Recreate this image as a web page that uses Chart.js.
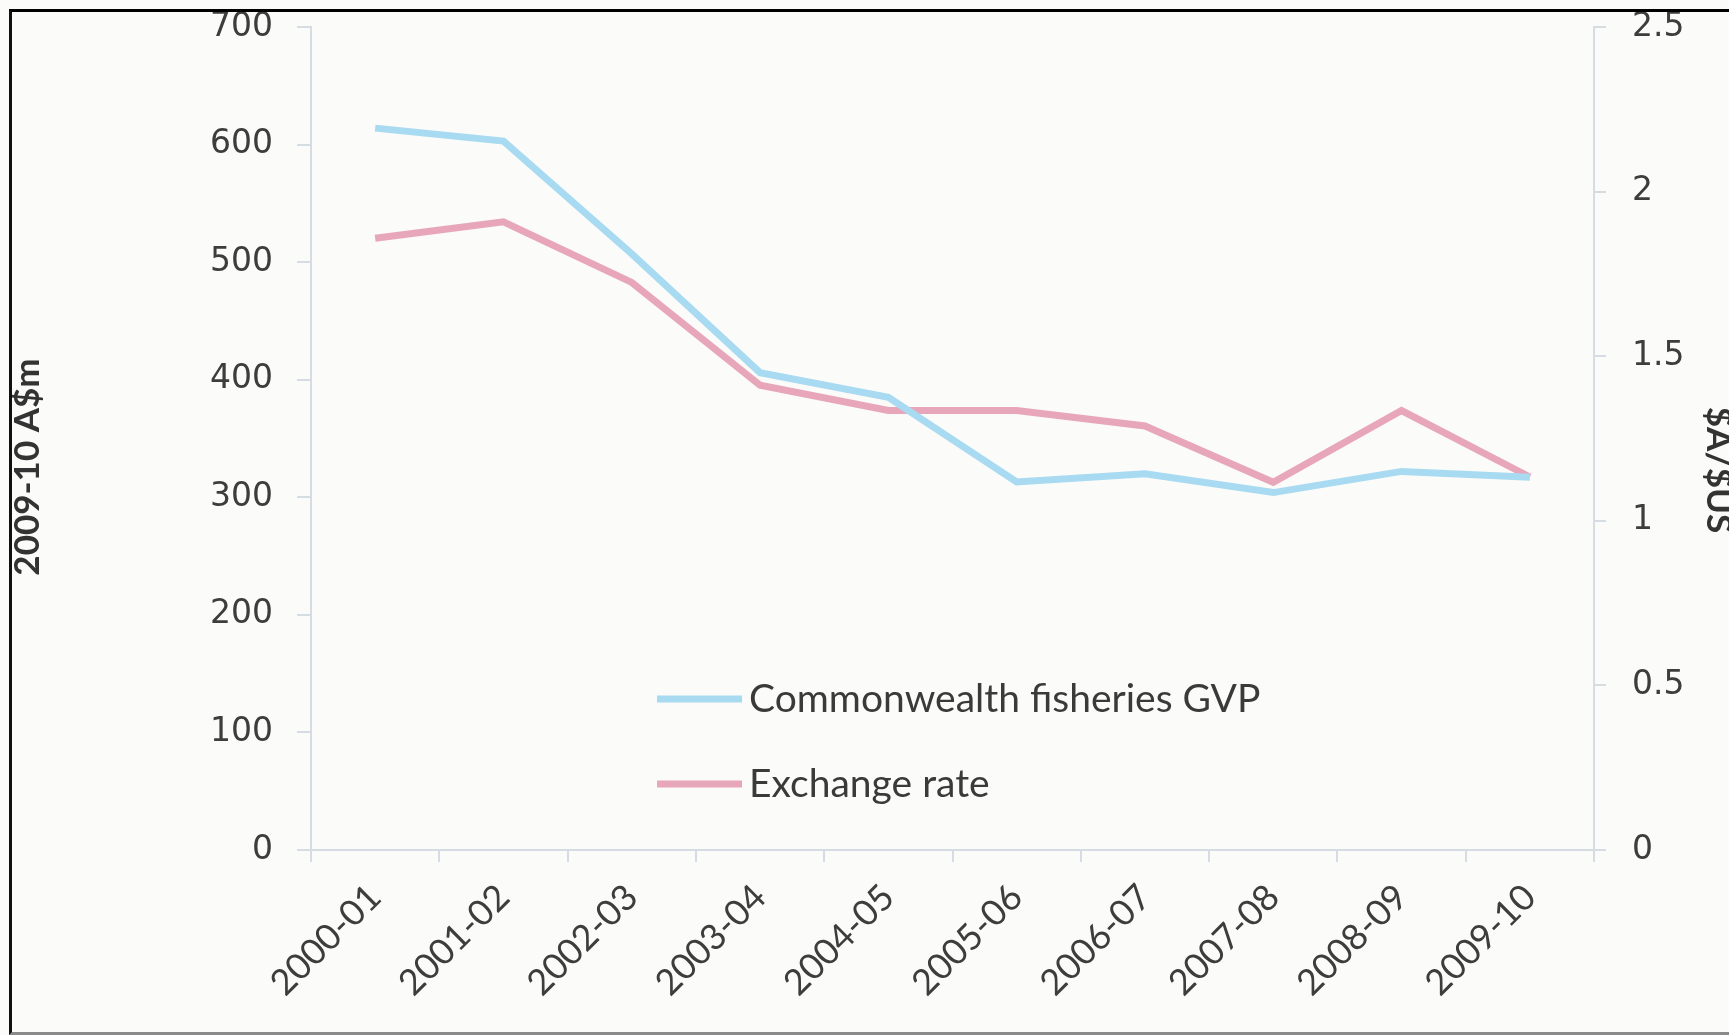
<!DOCTYPE html>
<html>
<head>
<meta charset="utf-8">
<script src="https://cdn.jsdelivr.net/npm/chart.js"></script>
<style>
  html, body { margin: 0; padding: 0; background: #fbfbf9; }
  #wrap { position: relative; width: 1729px; height: 1035px; overflow: hidden; }
  #frame {
    position: absolute; left: 9px; top: 9px; width: 1740px; height: 1020px;
    border-top: 3px solid #000; border-left: 3px solid #111; border-bottom: 3px solid #8a8a8a;
    pointer-events: none;
  }
  canvas { position: absolute; left: 0; top: 0; }
</style>
</head>
<body>
<div id="wrap">
  <canvas id="chart" width="1729" height="1035"></canvas>
  <div id="frame"></div>
</div>
<script>
  // Data
  const years = ['2000-01', '2001-02', '2002-03', '2003-04', '2004-05',
                 '2005-06', '2006-07', '2007-08', '2008-09', '2009-10'];
  const gvp = [614, 603, 507, 406, 385, 313, 320, 304, 322, 317];          // 2009-10 A$m
  const exchangeRate = [1.858, 1.908, 1.724, 1.412, 1.335, 1.335, 1.288, 1.117, 1.335, 1.133]; // $A/$US

  const leftTitle = '2009-10 A$m';
  const rightTitle = '$A/$US';

  const axisColor = '#d6dce3';
  const tickFont = { family: 'DejaVu Sans', size: 33 };
  const textColor = '#3d3d3d';

  // legend drawn inside the plot, like the original
  const innerLegend = {
    id: 'innerLegend',
    afterDatasetsDraw(chart) {
      const c = chart.ctx;
      const rows = [{ y: 699 }, { y: 784 }];
      c.save();
      chart.data.datasets.forEach((ds, i) => {
        const y = rows[i].y;
        c.strokeStyle = ds.borderColor;
        c.lineWidth = 7;
        c.beginPath();
        c.moveTo(657, y);
        c.lineTo(742, y);
        c.stroke();
        c.fillStyle = '#3a3a3a';
        c.font = '39px Lato';
        c.textBaseline = 'middle';
        c.fillText(ds.label, 749, y);
      });
      c.restore();
    }
  };

  // axis titles, placed where the scan has them
  const axisTitles = {
    id: 'axisTitles',
    afterDraw(chart) {
      const c = chart.ctx;
      c.save();
      c.fillStyle = '#333';
      c.font = 'bold 35px Lato';
      c.textAlign = 'center';
      c.textBaseline = 'middle';
      c.translate(28, 467);
      c.rotate(-Math.PI / 2);
      c.fillText(leftTitle, 0, 0);
      c.restore();

      c.save();
      c.fillStyle = '#333';
      c.font = 'bold 35px Lato';
      c.textAlign = 'center';
      c.textBaseline = 'middle';
      c.translate(1718, 470);
      c.rotate(Math.PI / 2);
      c.fillText(rightTitle, 0, 0);
      c.restore();
    }
  };

  // vertical axes: fixed width, no extra top/bottom padding from the labels
  const fitVertical = (width) => (scale) => {
    scale.width = width;
    scale.paddingTop = 0;
    scale.paddingBottom = 0;
  };

  new Chart(document.getElementById('chart'), {
    type: 'line',
    data: {
      labels: years,
      datasets: [{
        label: 'Commonwealth fisheries GVP',
        data: gvp,
        yAxisID: 'y',
        borderColor: '#a8dbf1',
        borderWidth: 7,
        pointRadius: 0,
        tension: 0
      }, {
        label: 'Exchange rate',
        data: exchangeRate,
        yAxisID: 'y1',
        borderColor: '#e8a6ba',
        borderWidth: 7,
        pointRadius: 0,
        tension: 0
      }]
    },
    options: {
      responsive: false,
      animation: false,
      layout: { padding: { top: 27, left: 0, right: 0, bottom: 0 } },
      plugins: {
        legend: { display: false },
        tooltip: { enabled: false }
      },
      scales: {
        x: {
          offset: true,
          grid: { offset: true, drawOnChartArea: false, color: axisColor, tickLength: 12, lineWidth: 2 },
          border: { color: axisColor, width: 2 },
          ticks: {
            color: textColor,
            font: { family: 'Lato', size: 36 },
            maxRotation: 45,
            minRotation: 45,
            padding: 14
          },
          afterFit(scale) {
            scale.height = 1035 - 850;
            scale.paddingLeft = 0;
            scale.paddingRight = 0;
          }
        },
        y: {
          position: 'left',
          min: 0,
          max: 700,
          ticks: { stepSize: 100, color: textColor, font: tickFont, padding: 24 },
          grid: { drawOnChartArea: false, color: axisColor, tickLength: 14, lineWidth: 2 },
          border: { color: axisColor, width: 2 },
          afterFit: fitVertical(311)
        },
        y1: {
          position: 'right',
          min: 0,
          max: 2.5,
          ticks: {
            stepSize: 0.5, color: textColor, font: tickFont, padding: 26,
            callback: (v) => String(Number(v.toFixed(1)))
          },
          grid: { drawOnChartArea: false, color: axisColor, tickLength: 12, lineWidth: 2 },
          border: { color: axisColor, width: 2 },
          afterFit: fitVertical(1729 - 1594)
        }
      }
    },
    plugins: [innerLegend, axisTitles]
  });
</script>
</body>
</html>
